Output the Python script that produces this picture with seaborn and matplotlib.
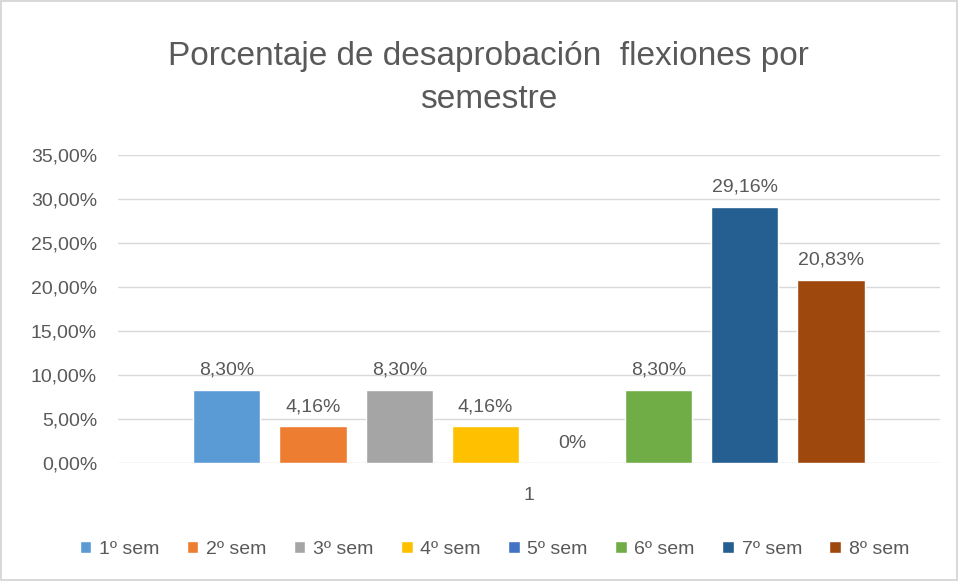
import pandas as pd
import seaborn as sns
import matplotlib.pyplot as plt
from matplotlib.ticker import FuncFormatter

# datos
semestres = ["1º sem", "2º sem", "3º sem", "4º sem", "5º sem", "6º sem", "7º sem", "8º sem"]
porcentajes = [8.30, 4.16, 8.30, 4.16, 0.0, 8.30, 29.16, 20.83]
colores = ["#5B9BD5", "#ED7D31", "#A5A5A5", "#FFC000", "#4472C4", "#70AD47", "#255E91", "#9E480E"]
categoria = "1"

df = pd.DataFrame({"grupo": [categoria] * len(semestres), "semestre": semestres, "valor": porcentajes})

sns.set_style("white")
plt.rcParams['font.family'] = ['Liberation Sans', 'DejaVu Sans']
gris = "#595959"

fig = plt.figure(figsize=(9.58, 5.81), dpi=100)
fig.patch.set_edgecolor("#D9D9D9")
fig.patch.set_linewidth(1.5)
ax = fig.add_axes([0.123, 0.203, 0.858, 0.530])

sns.barplot(data=df, x="grupo", y="valor", hue="semestre", hue_order=semestres,
            palette=colores, saturation=1, width=0.84, gap=0.22, ax=ax, legend=True)

ax.set_xlim(-0.5, 0.5)
ax.set_ylim(0, 35)
ax.set_yticks(range(0, 36, 5))
ax.yaxis.set_major_formatter(FuncFormatter(lambda v, p: f"{v:.2f}".replace(".", ",") + "%"))
ax.grid(axis="y", color="#D9D9D9", linewidth=1)
ax.set_axisbelow(True)
for s in ax.spines.values():
    s.set_visible(False)
ax.tick_params(axis="both", length=0, labelsize=14, colors=gris)
ax.tick_params(axis="y", pad=15)
ax.tick_params(axis="x", pad=17)
ax.set_xlabel("")
ax.set_ylabel("")

# etiquetas de datos
for cont in ax.containers:
    etiquetas = []
    for v in cont.datavalues:
        etiquetas.append("0%" if v == 0 else f"{v:.2f}".replace(".", ",") + "%")
    ax.bar_label(cont, labels=etiquetas, padding=8, fontsize=14, color=gris)

ax.legend(loc="center", ncol=8, frameon=False,
          fontsize=14, handlelength=0.6, handleheight=0.6, handletextpad=0.4,
          columnspacing=1.4, labelcolor=gris,
          bbox_to_anchor=(0.516, 0.055), bbox_transform=fig.transFigure)

fig.text(0.51, 0.93, "Porcentaje de desaprobación  flexiones por\nsemestre", ha="center", va="top",
         fontsize=24, color=gris, linespacing=1.5)

fig.savefig("out.png", dpi=100)
